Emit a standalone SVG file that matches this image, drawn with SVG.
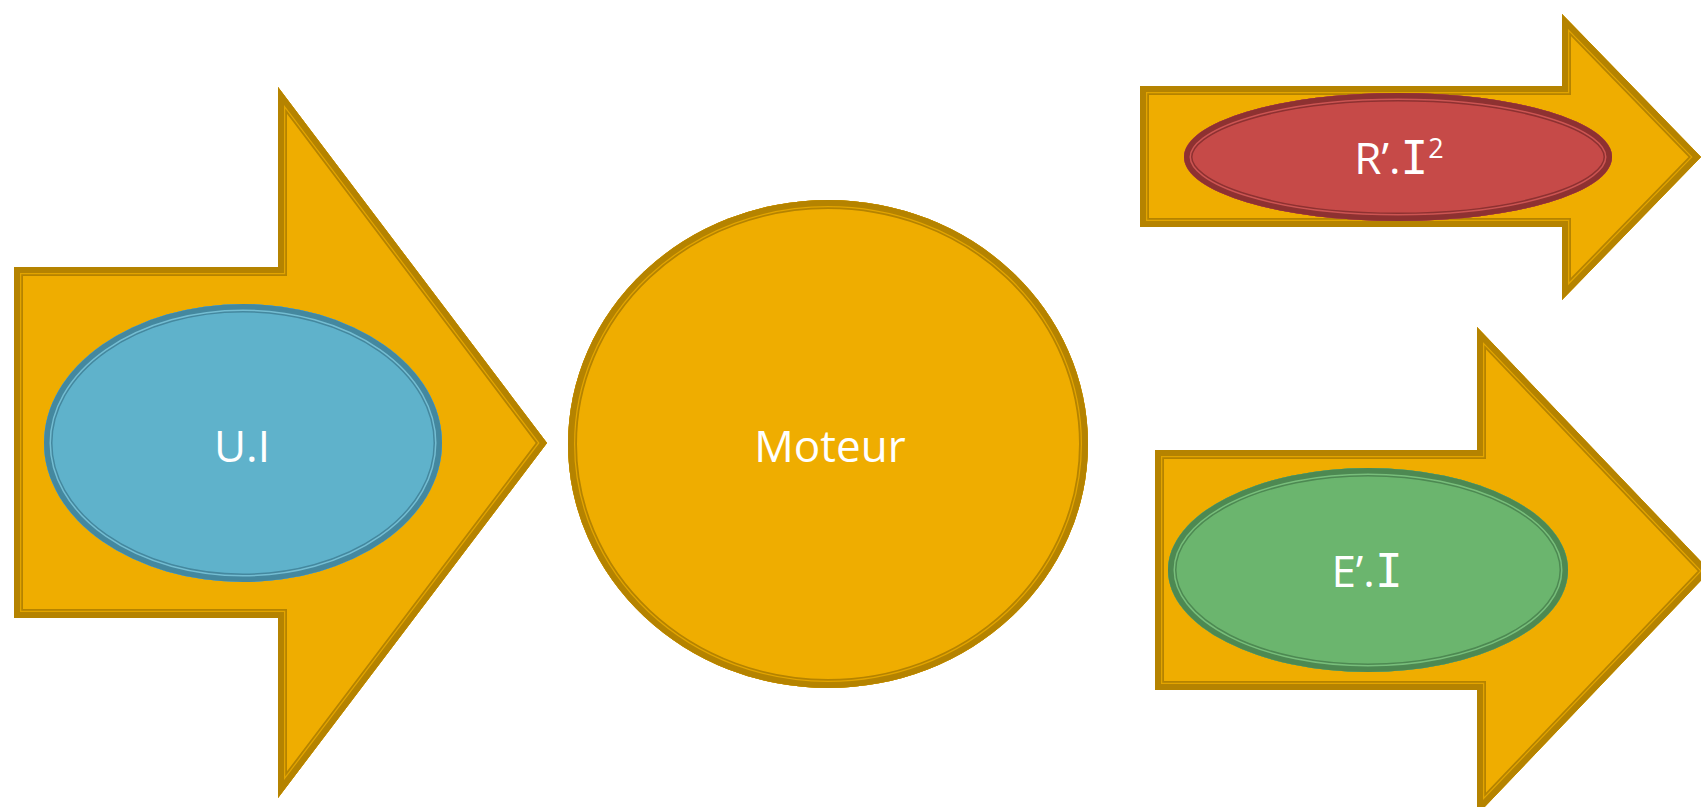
<svg xmlns="http://www.w3.org/2000/svg" xmlns:xlink="http://www.w3.org/1999/xlink" width="1701" height="807" viewBox="0 0 1701 807">
<style>
.lbl{font-family:"Open Sans","Noto Sans","Liberation Sans",sans-serif;font-size:44px;fill:#ffffff;text-anchor:middle}
.ii{font-family:"DejaVu Sans Mono","Liberation Mono",monospace;font-size:46px}
.gold{fill:#EFAD00}
.gb1{fill:none;stroke:#B58300;stroke-width:18}
.gb2{fill:none;stroke:#E2A400;stroke-width:14.5}
.gb3{fill:none;stroke:#B58300;stroke-width:12}
</style>
<defs>
<polygon id="pA" points="14,267 278,267 278,87 547,443 278,798 278,618 14,618"/>
<polygon id="pB" points="1140,86 1562,86 1562,14 1701,157 1562,300 1562,227 1140,227"/>
<polygon id="pC" points="1155,450 1477,450 1477,327 1710,571 1477,815 1477,690 1155,690"/>
<ellipse id="eU" cx="243" cy="443" rx="199" ry="139"/>
<ellipse id="eM" cx="828" cy="444" rx="260" ry="244"/>
<ellipse id="eR" cx="1398" cy="157" rx="214" ry="64"/>
<ellipse id="eE" cx="1368" cy="570" rx="200" ry="102"/>
<clipPath id="cA"><use xlink:href="#pA"/></clipPath>
<clipPath id="cB"><use xlink:href="#pB"/></clipPath>
<clipPath id="cC"><use xlink:href="#pC"/></clipPath>
<clipPath id="cU"><use xlink:href="#eU"/></clipPath>
<clipPath id="cM"><use xlink:href="#eM"/></clipPath>
<clipPath id="cR"><use xlink:href="#eR"/></clipPath>
<clipPath id="cE"><use xlink:href="#eE"/></clipPath>
</defs>

<g id="arrow-left">
<use xlink:href="#pA" class="gold"/>
<g clip-path="url(#cA)">
<use xlink:href="#pA" class="gb1"/><use xlink:href="#pA" class="gb2"/><use xlink:href="#pA" class="gb3"/>
</g>
</g>
<g id="node-ui">
<use xlink:href="#eU" fill="#5FB2CB"/>
<g clip-path="url(#cU)" fill="none">
<use xlink:href="#eU" stroke="#44889F" stroke-width="17"/>
<use xlink:href="#eU" stroke="#74BDD2" stroke-width="14"/>
<use xlink:href="#eU" stroke="#44889F" stroke-width="11"/>
</g>
<text class="lbl" x="242" y="462">U.I</text>
</g>

<g id="node-moteur">
<use xlink:href="#eM" class="gold"/>
<g clip-path="url(#cM)">
<use xlink:href="#eM" class="gb1"/><use xlink:href="#eM" class="gb2"/><use xlink:href="#eM" class="gb3"/>
</g>
<text class="lbl" x="830" y="462">Moteur</text>
</g>

<g id="arrow-top-right">
<use xlink:href="#pB" class="gold"/>
<g clip-path="url(#cB)">
<use xlink:href="#pB" class="gb1"/><use xlink:href="#pB" class="gb2"/><use xlink:href="#pB" class="gb3"/>
</g>
</g>
<g id="node-ri2">
<use xlink:href="#eR" fill="#C64A48"/>
<g clip-path="url(#cR)" fill="none">
<use xlink:href="#eR" stroke="#8E3131" stroke-width="17"/>
<use xlink:href="#eR" stroke="#CC5553" stroke-width="14"/>
<use xlink:href="#eR" stroke="#8E3131" stroke-width="11"/>
</g>
<text class="lbl" x="1399" y="174">R’.<tspan class="ii">I</tspan><tspan font-size="27" dy="-16">2</tspan></text>
</g>

<g id="arrow-bottom-right">
<use xlink:href="#pC" class="gold"/>
<g clip-path="url(#cC)">
<use xlink:href="#pC" class="gb1"/><use xlink:href="#pC" class="gb2"/><use xlink:href="#pC" class="gb3"/>
</g>
</g>
<g id="node-ei">
<use xlink:href="#eE" fill="#6BB56E"/>
<g clip-path="url(#cE)" fill="none">
<use xlink:href="#eE" stroke="#4D8952" stroke-width="17"/>
<use xlink:href="#eE" stroke="#78BE7B" stroke-width="14"/>
<use xlink:href="#eE" stroke="#4D8952" stroke-width="11"/>
</g>
<text class="lbl" x="1367" y="587">E’.<tspan class="ii">I</tspan></text>
</g>

<g id="connectors"></g>
</svg>
